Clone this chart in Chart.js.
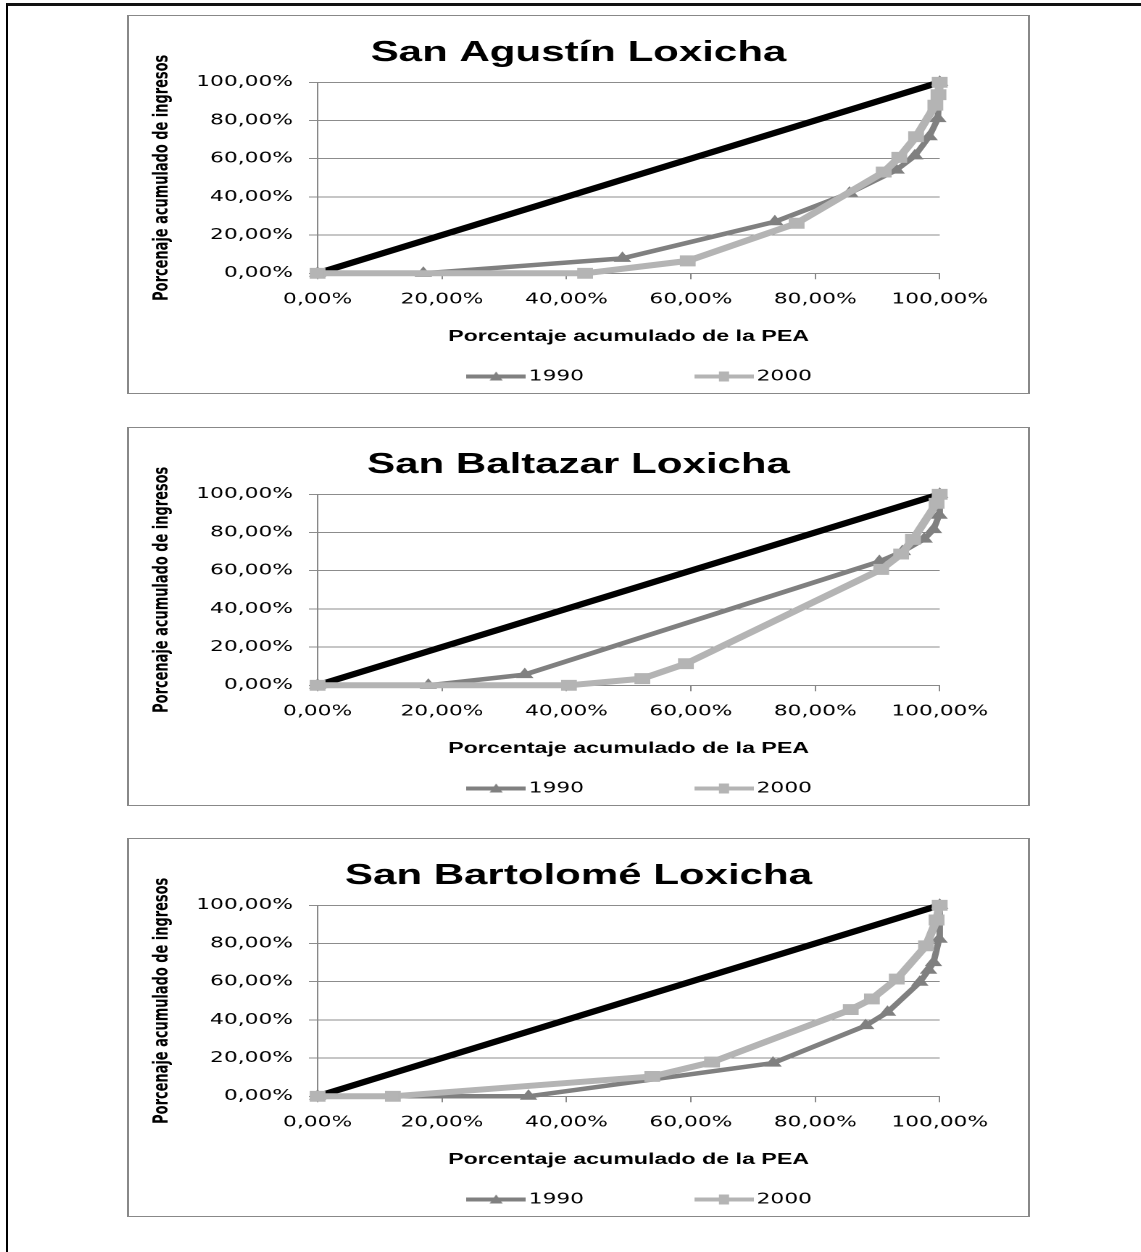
<!DOCTYPE html>
<html>
<head>
<meta charset="utf-8">
<script src="https://cdn.jsdelivr.net/npm/chart.js@4.4.1/dist/chart.umd.min.js"></script>
<style>
  body { margin: 0; background: #fff; width: 1141px; height: 1252px; overflow: hidden; position: relative; }
  .frame { position: absolute; left: 6px; top: 3px; width: 1300px; height: 1400px; border-left: 2px solid #000; border-top: 3px solid #111; }
  canvas { position: absolute; left: 127px; }
  .box { position: absolute; left: 127px; width: 903px; height: 379px; box-sizing: border-box;
         border: 1px solid #888; border-left-width: 2px; border-right-width: 2px; }
</style>
</head>
<body>
<div class="frame"></div>
<canvas id="c1" width="623" height="379" style="top:15px;width:903px;height:379px"></canvas>
<canvas id="c2" width="623" height="379" style="top:427px;width:903px;height:379px"></canvas>
<canvas id="c3" width="623" height="379" style="top:838px;width:903px;height:379px"></canvas>
<div class="box" style="top:15px"></div>
<div class="box" style="top:427px"></div>
<div class="box" style="top:838px"></div>
<script>
// ticks shared by both axes
const tickValues = [0, 0.2, 0.4, 0.6, 0.8, 1]

// line of equality
const igualdadX = [0, 1]
const igualdadY = [0, 1]

// San Agustín Loxicha
const agustinPea1990 = [0, 0.17, 0.49, 0.735, 0.855, 0.93, 0.96, 0.983, 0.997, 1]
const agustinIng1990 = [0, 0, 0.078, 0.27, 0.42, 0.54, 0.615, 0.715, 0.81, 1]
const agustinPea2000 = [0, 0.43, 0.595, 0.77, 0.91, 0.935, 0.962, 0.993, 0.998, 1]
const agustinIng2000 = [0, 0, 0.065, 0.262, 0.53, 0.607, 0.715, 0.88, 0.935, 1]

// San Baltazar Loxicha
const baltazarPea1990 = [0, 0.178, 0.333, 0.903, 0.94, 0.975, 0.99, 0.999, 1]
const baltazarIng1990 = [0, 0, 0.056, 0.648, 0.70, 0.765, 0.815, 0.89, 1]
const baltazarPea2000 = [0, 0.404, 0.522, 0.592, 0.906, 0.938, 0.957, 0.995, 1]
const baltazarIng2000 = [0, 0, 0.035, 0.113, 0.607, 0.687, 0.764, 0.953, 1]

// San Bartolomé Loxicha
const bartolomePea1990 = [0, 0.339, 0.732, 0.881, 0.916, 0.968, 0.982, 0.99, 0.999, 1]
const bartolomeIng1990 = [0, 0, 0.174, 0.37, 0.44, 0.597, 0.66, 0.70, 0.822, 1]
const bartolomePea2000 = [0, 0.121, 0.538, 0.634, 0.857, 0.891, 0.931, 0.978, 0.995, 1]
const bartolomeIng2000 = [0, 0, 0.104, 0.179, 0.454, 0.51, 0.614, 0.788, 0.923, 1]

const pct = v => (v * 100).toFixed(2).replace('.', ',') + '%'
const pts = (xs, ys) => xs.map((x, i) => ({ x, y: ys[i] }))

const gray1990 = '#808080'
const gray2000 = '#b4b4b4'
const tickFont = { family: '"DejaVu Sans", Verdana, sans-serif', size: 15 }
const rightPad = 62.3

// little line + marker pictures for the legend
function makeIcon(color, lw, shape) {
  const w = 41, h = 14, k = 2
  const c = document.createElement('canvas')
  c.width = w * k; c.height = h * k
  const g = c.getContext('2d')
  g.scale(k, k)
  g.strokeStyle = color; g.lineWidth = lw
  g.beginPath(); g.moveTo(0, h / 2); g.lineTo(w, h / 2); g.stroke()
  g.fillStyle = color
  g.beginPath()
  if (shape === 'triangle') {
    g.moveTo(w / 2, h / 2 - 5); g.lineTo(w / 2 + 4.5, h / 2 + 4); g.lineTo(w / 2 - 4.5, h / 2 + 4)
  } else {
    g.rect(w / 2 - 3.5, h / 2 - 5, 7, 10)
  }
  g.fill()
  const img = new Image(w, h)
  img.src = c.toDataURL()
  return img
}
const icons = [makeIcon(gray1990, 4, 'triangle'), makeIcon(gray2000, 4, 'rect')]

// title centred on the whole panel, legend nudged like the original
const boxShift = {
  id: 'boxShift',
  afterLayout(chart) {
    chart.legend.left += 10; chart.legend.right += 10
    chart.titleBlock.right += rightPad
  }
}

const panels = [
  { id: 'c1', title: 'San Agustín Loxicha', x90: agustinPea1990, y90: agustinIng1990, x00: agustinPea2000, y00: agustinIng2000 },
  { id: 'c2', title: 'San Baltazar Loxicha', x90: baltazarPea1990, y90: baltazarIng1990, x00: baltazarPea2000, y00: baltazarIng2000 },
  { id: 'c3', title: 'San Bartolomé Loxicha', x90: bartolomePea1990, y90: bartolomeIng1990, x00: bartolomePea2000, y00: bartolomeIng2000 }
]

function build(p) {
  const ctx = document.getElementById(p.id).getContext('2d')
  new Chart(ctx, {
    type: 'scatter',
    data: {
      datasets: [
        { label: 'Igualdad', data: pts(igualdadX, igualdadY), showLine: true, order: 3,
          borderColor: '#000', borderWidth: 6, pointRadius: 0, clip: false },
        { label: '1990', data: pts(p.x90, p.y90), showLine: true, order: 2,
          borderColor: gray1990, borderWidth: 4.5, borderJoinStyle: 'round',
          pointStyle: 'triangle', pointRadius: 6, pointBackgroundColor: gray1990,
          pointBorderColor: gray1990, pointBorderWidth: 1, clip: false },
        { label: '2000', data: pts(p.x00, p.y00), showLine: true, order: 1,
          borderColor: gray2000, borderWidth: 6, borderJoinStyle: 'round',
          pointStyle: 'rect', pointRadius: 7, pointBackgroundColor: gray2000,
          pointBorderColor: gray2000, pointBorderWidth: 1, clip: false }
      ]
    },
    options: {
      responsive: false,
      devicePixelRatio: 2,
      animation: false,
      events: [],
      layout: { padding: { left: 0, right: rightPad, top: 0, bottom: 0 } },
      scales: {
        x: {
          type: 'linear', min: 0, max: 1,
          afterBuildTicks: s => { s.ticks = tickValues.map(v => ({ value: v })) },
          afterFit: s => { s.height = 85.7 },
          ticks: { callback: v => pct(v), font: tickFont, color: '#000', padding: 11.5, maxRotation: 0 },
          grid: { drawOnChartArea: false, drawTicks: true, tickLength: 6, color: '#888' },
          border: { color: '#888', width: 1 },
          title: { display: true, text: 'Porcentaje acumulado de la PEA', color: '#000',
                   font: { family: '"Liberation Sans", Arial, sans-serif', size: 16, weight: 'bold' },
                   padding: { top: 18, bottom: 13 } }
        },
        y: {
          type: 'linear', min: 0, max: 1,
          afterBuildTicks: s => { s.ticks = tickValues.map(v => ({ value: v })) },
          afterFit: s => { s.width = 131.5 },
          ticks: { callback: v => pct(v), font: tickFont, color: '#000', padding: 11 },
          grid: { color: '#8c8c8c', lineWidth: 1, drawTicks: true, tickLength: 6 },
          border: { color: '#888', width: 1 },
          title: { display: true, text: 'Porcenaje acumulado de ingresos', color: '#000',
                   font: { family: '"Liberation Sans Narrow", "DejaVu Sans Condensed", sans-serif', size: 14.4, weight: 'bold' },
                   padding: { top: 15.4, bottom: 14 } }
        }
      },
      plugins: {
        tooltip: { enabled: false },
        title: {
          display: true, text: p.title, color: '#000',
          font: { family: '"Liberation Sans", Arial, sans-serif', size: 29, weight: 'bold' },
          padding: { top: 20.6, bottom: 11.9 }
        },
        legend: {
          position: 'bottom',
          fullSize: false,
          labels: {
            usePointStyle: true,
            pointStyleWidth: 30,
            padding: 10,
            color: '#000',
            font: tickFont,
            generateLabels(chart) {
              const items = Chart.defaults.plugins.legend.labels.generateLabels(chart)
              return items
                .filter(it => it.datasetIndex > 0)
                .sort((a, b) => a.datasetIndex - b.datasetIndex)
                .map(it => ({
                  ...it,
                  pointStyle: icons[it.datasetIndex - 1],
                  text: it.datasetIndex === 1 ? it.text + ' '.repeat(15) : it.text
                }))
            }
          }
        }
      }
    },
    plugins: [boxShift]
  })
}

Promise.all(icons.map(i => i.decode().catch(() => null))).then(() => panels.forEach(build))
</script>
</body>
</html>
